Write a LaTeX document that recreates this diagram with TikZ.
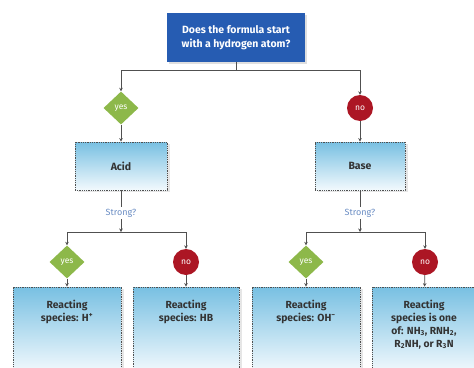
\documentclass[tikz,border=0pt]{standalone}
\usepackage{fontspec}
\setmainfont{Fira Sans}
\usetikzlibrary{shapes,arrows.meta,positioning,shadows}

\definecolor{qblue}{RGB}{38,92,178}
\definecolor{boxtop}{RGB}{120,192,226}
\definecolor{boxbot}{RGB}{242,249,253}
\definecolor{yesgreen}{RGB}{141,184,74}
\definecolor{nored}{RGB}{172,22,36}
\definecolor{linegray}{RGB}{80,80,80}
\definecolor{askblue}{RGB}{105,140,195}

\begin{document}
\begin{tikzpicture}[x=1pt, y=-1pt,
    question/.style={rectangle, fill=qblue, text=white, font=\fontsize{10.5}{13.5}\selectfont\bfseries, align=center, minimum width=138pt, minimum height=49pt, inner sep=0pt, drop shadow={opacity=0.25, shadow xshift=2pt, shadow yshift=-2pt}},
    kind/.style={rectangle, draw=linegray, densely dotted, line width=0.8pt, top color=boxtop, bottom color=boxbot, text=black!80, font=\fontsize{10.5}{13}\selectfont\bfseries, inner sep=0pt, drop shadow={opacity=0.2, shadow xshift=3pt, shadow yshift=-2pt}},
    result/.style={kind, minimum height=85pt},
    restext/.style={text=black!80, font=\fontsize{10.3}{13}\selectfont\bfseries, align=center, inner sep=0pt},
    yesmark/.style={diamond, fill=yesgreen, text=white, font=\fontsize{8.5}{10}\selectfont, minimum width=35pt, minimum height=33pt, inner sep=0pt},
    nomark/.style={circle, fill=nored, text=white, font=\fontsize{8.5}{10}\selectfont, minimum size=26pt, inner sep=0pt},
    ask/.style={text=askblue, font=\fontsize{9}{11}\selectfont, inner sep=2pt},
    link/.style={draw=linegray, line width=0.8pt},
    arrow/.style={link, ->, >={Stealth[length=3.5pt,width=3.5pt]}}
]
\clip (0,0) rectangle (474,367);

% question
\node[question] (q) at (236,37.5) {Does the formula start\\with a hydrogen atom?};
\coordinate (split0) at (236,70);

% first answer
\node[yesmark] (yes1) at (121,108) {yes};
\node[nomark] (no1) at (360,108) {no};
\node[kind, minimum width=92pt, minimum height=48pt] (acid) at (121,166) {Acid};
\node[kind, minimum width=90pt, minimum height=48pt] (base) at (360,166) {Base};

\draw[link] (q) -- (split0);
\draw[arrow] (split0) -| (yes1);
\draw[arrow] (split0) -| (no1);
\draw[arrow] (yes1) -- (acid);
\draw[arrow] (no1) -- (base);

% strong?
\node[ask] (ask1) at (121,213) {Strong?};
\node[ask] (ask2) at (360,213) {Strong?};
\coordinate (split1) at (121,232);
\coordinate (split2) at (360,232);

\draw[link] (acid) -- (ask1);
\draw[arrow] (ask1) -- (split1);
\draw[link] (base) -- (ask2);
\draw[arrow] (ask2) -- (split2);

\node[yesmark] (yes2) at (67,262) {yes};
\node[nomark] (no2) at (186,262) {no};
\node[yesmark] (yes3) at (306,262) {yes};
\node[nomark] (no3) at (425,262) {no};

\draw[arrow] (split1) -| (yes2);
\draw[arrow] (split1) -| (no2);
\draw[arrow] (split2) -| (yes3);
\draw[arrow] (split2) -| (no3);

% reacting species
\node[result, minimum width=108pt] (r1) at (67,329.5) {};
\node[result, minimum width=106pt] (r2) at (186,329.5) {};
\node[result, minimum width=108pt] (r3) at (306,329.5) {};
\node[result, minimum width=104pt] (r4) at (424,329.5) {};

\node[restext, below=13pt of r1.north] (t1) {Reacting\\species: H\textsuperscript{+}};
\node[restext, below=13pt of r2.north] (t2) {Reacting\\species: HB};
\node[restext, below=13pt of r3.north] (t3) {Reacting\\species: OH\textsuperscript{−}};
\node[restext, below=13pt of r4.north] (t4) {Reacting\\species is one\\of: NH\textsubscript{3}, RNH\textsubscript{2},\\R\textsubscript{2}NH, or R\textsubscript{3}N};

\draw[arrow] (yes2) -- (r1);
\draw[arrow] (no2) -- (r2);
\draw[arrow] (yes3) -- (r3);
\draw[arrow] (no3) -- (r4);
\end{tikzpicture}
\end{document}
